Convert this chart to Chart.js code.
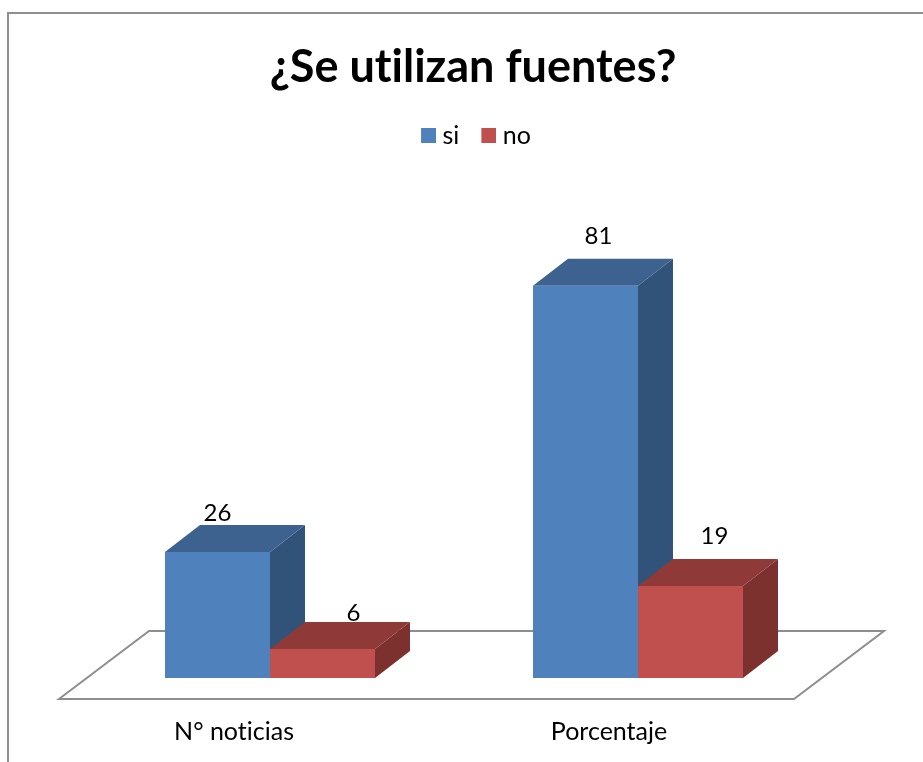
<!DOCTYPE html>
<html>
<head>
<meta charset="utf-8">
<style>html,body{margin:0;padding:0;background:#fff}canvas{display:block}</style>
<script src="https://cdn.jsdelivr.net/npm/chart.js@4"></script>
</head>
<body>
<canvas id="c" width="923" height="762"></canvas>
<script>
const categories = ["N° noticias", "Porcentaje"];
const siValues = [26, 81];
const noValues = [6, 19];
const chartTitle = "¿Se utilizan fuentes?";

const FONT = "Lato";
const depthX = 35, depthY = 27;
const shades = [
  {front:"#4F81BD", top:"#3D6290", side:"#325379"},
  {front:"#C0504D", top:"#8F3A38", side:"#7D312F"}
];
// label nudges relative to each bar's centre / top
const labelNudge = [
  [[0,-39],[31,-36]],
  [[13,-50],[24,-50]]
];
const tickNudge = [-36, -29];

// legend swatch: 15px square, right-aligned in a wider sprite so it sits close to its text
function swatch(color){
  const s = document.createElement("canvas");
  s.width = 21; s.height = 15;
  const g = s.getContext("2d");
  g.fillStyle = color;
  g.fillRect(6, 0, 15, 15);
  return s;
}
const swatches = shades.map(s=>swatch(s.front));

const scene = {
  id:"scene",
  beforeDraw(chart){
    const c = chart.ctx;
    c.textRendering = "optimizeSpeed";
    chart.scales.x.getLabelItems().forEach((it,i)=>{
      it.options.translation[0] += tickNudge[i];
    });
    c.save();
    c.strokeStyle = "#8E8E8E"; c.lineWidth = 2;
    c.beginPath();
    c.moveTo(8, 770); c.lineTo(8, 13); c.lineTo(930, 13);
    c.stroke();
    c.restore();
  },
  afterLayout(chart){
    chart.titleBlock.left += 19; chart.titleBlock.right += 19;
    chart.legend.left += 22; chart.legend.right += 22;
  },
  beforeDatasetsDraw(chart){
    const c = chart.ctx, a = chart.chartArea;
    c.save();
    c.strokeStyle = "#8E8E8E"; c.lineWidth = 2;
    c.beginPath();
    c.moveTo(a.left-27, a.bottom+21);
    c.lineTo(a.left+63, a.bottom-47);
    c.lineTo(a.right+62, a.bottom-47);
    c.lineTo(a.right-28, a.bottom+21);
    c.closePath();
    c.stroke();
    chart.data.datasets.forEach((d, di)=>{
      chart.getDatasetMeta(di).data.forEach(b=>{
        const l = b.x-b.width/2, r = b.x+b.width/2, t = b.y, base = b.base;
        c.fillStyle = shades[di].side;
        c.beginPath();
        c.moveTo(r,t); c.lineTo(r+depthX,t-depthY); c.lineTo(r+depthX,base-depthY); c.lineTo(r,base);
        c.closePath(); c.fill();
        c.fillStyle = shades[di].top;
        c.beginPath();
        c.moveTo(l,t); c.lineTo(l+depthX,t-depthY); c.lineTo(r+depthX,t-depthY); c.lineTo(r,t);
        c.closePath(); c.fill();
      });
    });
    c.restore();
  },
  afterDatasetsDraw(chart){
    const c = chart.ctx;
    c.save();
    c.font = "24px "+FONT;
    c.fillStyle = "#000";
    c.textAlign = "center"; c.textBaseline = "middle";
    chart.data.datasets.forEach((d, di)=>{
      chart.getDatasetMeta(di).data.forEach((b,i)=>{
        const n = labelNudge[i][di];
        c.fillText(String(d.data[i]), b.x+n[0], b.y+n[1]);
      });
    });
    c.restore();
  }
};

new Chart(document.getElementById("c"), {
  type:"bar",
  data:{
    labels:categories,
    datasets:[
      {label:"si", data:siValues, backgroundColor:shades[0].front, borderWidth:0},
      {label:"no", data:noValues, backgroundColor:shades[1].front, borderWidth:0}
    ]
  },
  options:{
    responsive:false,
    animation:false,
    layout:{padding:{left:86,right:101,top:0,bottom:0}},
    categoryPercentage:0.5707,
    barPercentage:1,
    scales:{
      x:{
        grid:{display:false},
        border:{display:false},
        ticks:{font:{family:FONT,size:25},color:"#000",padding:31,maxRotation:0},
        afterFit(s){ s.height = 84; }
      },
      y:{display:false,min:0,max:107.4}
    },
    plugins:{
      title:{display:true,text:chartTitle,color:"#000",font:{family:FONT,size:45,weight:"bold"},padding:{top:40,bottom:7}},
      legend:{display:true,position:"top",labels:{
        boxWidth:15,boxHeight:15,padding:22,color:"#000",font:{family:FONT,size:25},
        usePointStyle:true,pointStyleWidth:9,
        generateLabels(chart){
          return Chart.defaults.plugins.legend.labels.generateLabels(chart).map((it,i)=>{
            it.pointStyle = swatches[i];
            return it;
          });
        }
      }},
      tooltip:{enabled:false}
    }
  },
  plugins:[scene]
});
</script>
</body>
</html>
